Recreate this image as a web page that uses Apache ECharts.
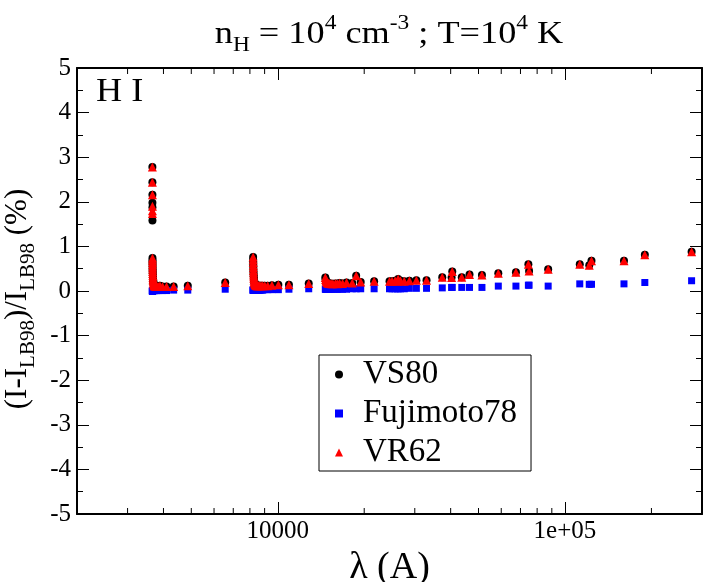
<!DOCTYPE html>
<html>
<head>
<meta charset="utf-8">
<script src="https://cdn.jsdelivr.net/npm/echarts@6/dist/echarts.min.js"></script>
<style>
  html, body { margin: 0; padding: 0; background: #fff; }
  #chart { width: 707px; height: 582px; }
</style>
</head>
<body>
<div id="chart"></div>
<script>
// H I line wavelengths (A) and relative differences (%) vs LB98
const lambda = [
  3660.2, 3660.6, 3661.0, 3661.4, 3661.8, 3662.3,
  3663.0, 3663.8, 3664.6, 3665.5, 3666.4, 3667.7, 3669.5, 3671.5, 3673.8, 3676.4,
  3679.4, 3682.8, 3686.8, 3691.6, 3697.2, 3703.9, 3712.0, 3721.9, 3734.4, 3750.2,
  3770.6, 3797.9, 3835.4, 3889.1, 3970.1, 4101.7, 4340.5, 4861.3, 6562.8,
  8210, 8213, 8216, 8220, 8224, 8229, 8235, 8242, 8250, 8259, 8270, 8283, 8298,
  8314, 8333, 8359, 8392, 8438, 8467, 8502, 8545, 8598, 8665, 8750, 8863, 9015,
  9229, 9546, 10049, 10938, 12818,
  14640, 14680, 14730, 14790, 14860, 14950, 15050, 15180, 15340, 15560, 15880,
  16110, 16410, 16810, 17360, 18170, 18751, 19445, 21655,
  24500, 25000, 25620, 26126, 26252, 26751, 27575, 28722, 30384, 32961, 37395,
  40300, 40512, 43726, 46525, 51400, 58600, 67500, 74578, 75004, 87400,
  112600, 121500, 123680, 160500, 189700, 276000
];
const vs80 = [
  2.78, 2.44, 2.16, 1.98, 1.88, 1.58,
  0.74, 0.69, 0.64, 0.59, 0.54, 0.49, 0.44, 0.39, 0.35, 0.31,
  0.27, 0.24, 0.21, 0.18, 0.16, 0.14, 0.13, 0.12, 0.11, 0.11,
  0.10, 0.10, 0.10, 0.12, 0.10, 0.10, 0.10, 0.12, 0.19,
  0.76, 0.70, 0.64, 0.58, 0.52, 0.46, 0.41, 0.36, 0.32, 0.28, 0.24, 0.21, 0.19,
  0.17, 0.15, 0.14, 0.13, 0.13, 0.12, 0.12, 0.12, 0.12, 0.12, 0.12, 0.12, 0.12,
  0.12, 0.13, 0.14, 0.14, 0.17,
  0.30, 0.26, 0.23, 0.21, 0.19, 0.18, 0.17, 0.17, 0.16, 0.16, 0.17,
  0.16, 0.18, 0.17, 0.19, 0.18, 0.34, 0.20, 0.22,
  0.22, 0.22, 0.23, 0.22, 0.27, 0.23, 0.22, 0.23, 0.24, 0.24, 0.31,
  0.30, 0.44, 0.31, 0.37, 0.36, 0.40, 0.42, 0.60, 0.45, 0.49,
  0.60, 0.58, 0.68, 0.68, 0.81, 0.88
];
const fujimoto78 = [
  0.00, 0.00, 0.00, 0.00, 0.00, 0.00,
  0.01, 0.01, 0.01, 0.01, 0.01, 0.01, 0.01, 0.01, 0.01, 0.01,
  0.01, 0.01, 0.01, 0.01, 0.01, 0.01, 0.01, 0.01, 0.01, 0.01,
  0.01, 0.01, 0.01, 0.01, 0.01, 0.01, 0.02, 0.02, 0.04,
  0.02, 0.02, 0.02, 0.02, 0.02, 0.02, 0.02, 0.02, 0.02, 0.02, 0.02, 0.02, 0.02,
  0.02, 0.02, 0.02, 0.02, 0.02, 0.02, 0.02, 0.02, 0.02, 0.02, 0.02, 0.02, 0.03,
  0.03, 0.03, 0.03, 0.04, 0.05,
  0.04, 0.04, 0.04, 0.04, 0.04, 0.04, 0.04, 0.04, 0.04, 0.04, 0.04,
  0.04, 0.04, 0.04, 0.04, 0.05, 0.05, 0.05, 0.05,
  0.05, 0.05, 0.05, 0.05, 0.05, 0.05, 0.05, 0.06, 0.06, 0.06, 0.07,
  0.08, 0.08, 0.08, 0.08, 0.08, 0.11, 0.11, 0.13, 0.13, 0.11,
  0.16, 0.15, 0.15, 0.16, 0.19, 0.23
];
const vr62 = [
  2.78, 2.44, 2.16, 1.90, 1.80, 1.74,
  0.74, 0.69, 0.64, 0.59, 0.54, 0.49, 0.44, 0.39, 0.35, 0.31,
  0.27, 0.24, 0.21, 0.18, 0.16, 0.14, 0.13, 0.12, 0.11, 0.11,
  0.10, 0.10, 0.10, 0.12, 0.10, 0.10, 0.10, 0.12, 0.19,
  0.76, 0.70, 0.64, 0.58, 0.52, 0.46, 0.41, 0.36, 0.32, 0.28, 0.24, 0.21, 0.19,
  0.17, 0.15, 0.14, 0.13, 0.13, 0.12, 0.12, 0.12, 0.12, 0.12, 0.12, 0.12, 0.12,
  0.12, 0.13, 0.14, 0.14, 0.17,
  0.30, 0.26, 0.23, 0.21, 0.19, 0.18, 0.17, 0.17, 0.16, 0.16, 0.17,
  0.16, 0.18, 0.17, 0.19, 0.18, 0.34, 0.20, 0.22,
  0.22, 0.22, 0.23, 0.22, 0.27, 0.23, 0.22, 0.23, 0.24, 0.24, 0.31,
  0.30, 0.44, 0.31, 0.37, 0.36, 0.40, 0.42, 0.60, 0.45, 0.49,
  0.60, 0.58, 0.68, 0.68, 0.81, 0.88
];
// minor ticks of the log axis
const minorTickVals = [3000, 4000, 5000, 6000, 7000, 8000, 9000,
  20000, 30000, 40000, 50000, 60000, 70000, 80000, 90000, 200000];

const FONT = "'Liberation Serif', 'DejaVu Serif', serif";
const pair = (ys) => lambda.map((x, i) => [x, ys[i]]);

const chart = echarts.init(document.getElementById("chart"));

const xBase = {
  type: "log",
  logBase: 10,
  min: 2000,
  max: 300000,
  splitLine: { show: false },
  axisLine: { show: true, onZero: false, lineStyle: { color: "#000", width: 2 } },
  axisTick: { inside: true, length: 12, lineStyle: { color: "#000", width: 1 } },
};
const yBase = {
  type: "value",
  min: -5,
  max: 5,
  interval: 1,
  splitLine: { show: false },
  axisLine: { show: true, onZero: false, lineStyle: { color: "#000", width: 2 } },
  axisTick: { inside: true, length: 12, lineStyle: { color: "#000", width: 1 } },
  minorTick: { show: true, splitNumber: 2, length: 6, lineStyle: { color: "#000", width: 1 } },
};

const option = {
  animation: false,
  backgroundColor: "#fff",
  textStyle: { fontFamily: FONT },
  grid: { left: 77, right: 5, top: 68, bottom: 68, outerBoundsMode: "none" },
  legend: {
    orient: "vertical",
    left: 319,
    top: 355,
    padding: [3, 14, 2, 16],
    itemGap: 6,
    itemWidth: 8,
    itemHeight: 8,
    borderColor: "#000",
    borderWidth: 1,
    backgroundColor: "#fff",
    selectedMode: false,
    textStyle: { fontFamily: FONT, fontSize: 33, lineHeight: 30, color: "#000", padding: [0, 0, 0, 15] },
    data: [
      { name: "VS80", icon: "circle" },
      { name: "Fujimoto78", icon: "rect" },
      { name: "VR62", icon: "triangle" },
    ],
  },
  graphic: [
    {
      // title
      type: "text",
      x: 389,
      y: 14,
      scaleX: 1.17,
      style: {
        text: "n{sub|H} = 10{sup|4} cm{sup|-3} ; T=10{sup|4} K",
        fontFamily: FONT,
        fontSize: 31,
        lineHeight: 42,
        fill: "#000",
        align: "center",
        verticalAlign: "top",
        rich: {
          sup: { fontFamily: FONT, fontSize: 20, lineHeight: 15, verticalAlign: "top", fill: "#000" },
          sub: { fontFamily: FONT, fontSize: 20, lineHeight: 21, verticalAlign: "bottom", fill: "#000" },
        },
      },
    },
    {
      type: "text",
      x: 96,
      y: 76,
      scaleX: 1.1,
      style: { text: "H I", font: "33px " + FONT, fill: "#000" },
    },
  ],
  xAxis: [
    Object.assign({}, xBase, {
      position: "bottom",
      name: "λ (A)",
      nameLocation: "middle",
      nameGap: 24,
      nameTextStyle: { fontFamily: FONT, fontSize: 38, color: "#000" },
      axisLabel: {
        fontFamily: FONT,
        fontSize: 25,
        color: "#000",
        margin: 5,
        showMinLabel: false,
        showMaxLabel: false,
        formatter: (v) => {
          const r = Math.round(v);
          return r >= 100000 ? "1e+05" : String(r);
        },
      },
    }),
    Object.assign({}, xBase, { position: "top", axisLabel: { show: false } }),
  ],
  yAxis: [
    Object.assign({}, yBase, {
      position: "left",
      name: "(I-I{sub|LB98})/I{sub|LB98} (%)",
      nameLocation: "middle",
      nameGap: 38,
      nameTextStyle: {
        fontFamily: FONT,
        fontSize: 31,
        lineHeight: 42,
        color: "#000",
        padding: [0, 16, 0, 0],
        rich: {
          sub: { fontFamily: FONT, fontSize: 21, lineHeight: 21, verticalAlign: "bottom", color: "#000" },
        },
      },
      axisLabel: { fontFamily: FONT, fontSize: 25, color: "#000", margin: 6 },
    }),
    Object.assign({}, yBase, { position: "right", axisLabel: { show: false } }),
  ],
  series: [
    {
      name: "minorTicks",
      type: "custom",
      silent: true,
      clip: false,
      z: 1,
      data: minorTickVals.map((v) => [v, 0]),
      renderItem: (params, api) => {
        const x = api.coord([api.value(0), 0])[0];
        const cs = params.coordSys;
        const yb = cs.y + cs.height;
        return {
          type: "group",
          children: [
            { type: "line", shape: { x1: x, y1: yb, x2: x, y2: yb - 6 }, style: { stroke: "#000", lineWidth: 1 } },
            { type: "line", shape: { x1: x, y1: cs.y, x2: x, y2: cs.y + 6 }, style: { stroke: "#000", lineWidth: 1 } },
          ],
        };
      },
    },
    {
      name: "VS80",
      type: "scatter",
      symbol: "circle",
      symbolSize: 8,
      itemStyle: { color: "#000", opacity: 1 },
      data: pair(vs80),
      z: 2,
    },
    {
      name: "Fujimoto78",
      type: "scatter",
      symbol: "rect",
      symbolSize: 7,
      itemStyle: { color: "#0000ff", opacity: 1 },
      data: pair(fujimoto78),
      z: 3,
    },
    {
      name: "VR62",
      type: "scatter",
      symbol: "triangle",
      symbolSize: 9,
      itemStyle: { color: "#ff0000", opacity: 1 },
      data: pair(vr62),
      z: 4,
    },
  ],
};

chart.setOption(option);
</script>
</body>
</html>
